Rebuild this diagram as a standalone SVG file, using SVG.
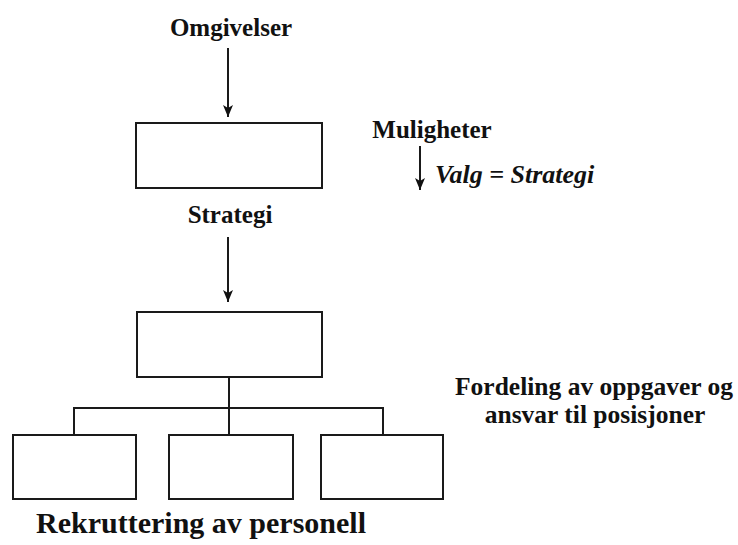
<svg xmlns="http://www.w3.org/2000/svg" width="738" height="545" viewBox="0 0 738 545">
  <style>
    .box { fill: #ffffff; stroke: #1a1a1a; stroke-width: 2; }
    .line { fill: none; stroke: #1a1a1a; stroke-width: 2; }
    .lbl { font-weight: bold; fill: #111111; text-anchor: middle; }
    .it { font-style: italic; text-anchor: start; }
  </style>
  <defs>
    <marker id="arrow" viewBox="0 0 12 10" refX="12" refY="5" markerWidth="12" markerHeight="10" markerUnits="userSpaceOnUse" orient="auto">
      <path d="M0,0 L12,5 L0,10 L3,5 Z" fill="#111111"/>
    </marker>
  </defs>
  <rect width="738" height="545" fill="#ffffff"/>

  <!-- connectors -->
  <g id="connectors">
    <line class="line" x1="228" y1="48" x2="228" y2="117" marker-end="url(#arrow)"/>
    <line class="line" x1="228" y1="237" x2="228" y2="302" marker-end="url(#arrow)"/>
    <line class="line" x1="420" y1="146" x2="420" y2="190" marker-end="url(#arrow)"/>
    <path class="line" d="M229,377 V435 M74,435 V408 H383 V435"/>
  </g>

  <g font-family="Liberation Serif, Times New Roman, DejaVu Serif, serif">
    <!-- environment and strategy -->
    <g id="omgivelser">
      <text class="lbl" x="231" y="36" font-size="25">Omgivelser</text>
    </g>
    <g id="strategi-box">
      <rect class="box" x="136" y="123" width="186" height="65"/>
      <text class="lbl" x="230" y="223" font-size="25">Strategi</text>
    </g>
    <g id="muligheter">
      <text class="lbl" x="432" y="138" font-size="25">Muligheter</text>
      <text class="lbl it" x="435" y="183" font-size="26">Valg = Strategi</text>
    </g>

    <!-- organisation chart -->
    <g id="org-top">
      <rect class="box" x="137" y="312" width="185" height="65"/>
    </g>
    <g id="org-left">
      <rect class="box" x="13" y="435" width="123" height="64"/>
    </g>
    <g id="org-mid">
      <rect class="box" x="169" y="435" width="124" height="64"/>
    </g>
    <g id="org-right">
      <rect class="box" x="321" y="435" width="122" height="64"/>
    </g>
    <g id="fordeling">
      <text class="lbl" x="594" y="395" font-size="25.5">Fordeling av oppgaver og</text>
      <text class="lbl" x="595" y="423" font-size="25.5">ansvar til posisjoner</text>
    </g>
    <g id="rekruttering">
      <text class="lbl" x="201" y="533" font-size="30">Rekruttering av personell</text>
    </g>
  </g>
</svg>
